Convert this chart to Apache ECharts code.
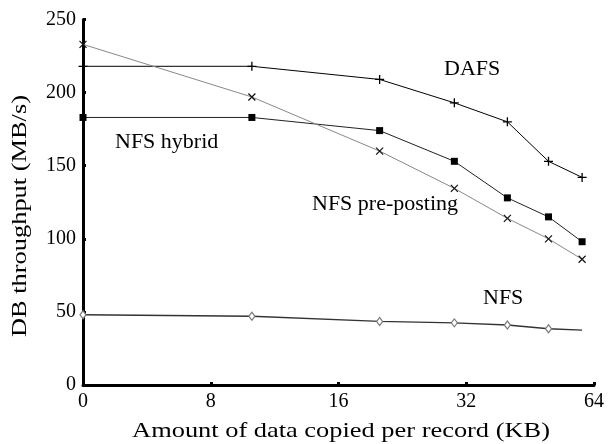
<!DOCTYPE html>
<html>
<head>
<meta charset="utf-8">
<script src="https://cdn.jsdelivr.net/npm/echarts@6/dist/echarts.min.js"></script>
<style>html,body{margin:0;padding:0;background:#fff;}#c{width:610px;height:444px;}</style>
</head>
<body>
<div id="c"></div>
<script>
// ---- data ----
const kbCopied = [0, 10, 20, 30, 40, 50, 60];
const dafs = [218, 218, 209, 193, 180, 153, 142];
const nfsHybrid = [183, 183, 174, 153, 128, 115, 98];
const nfsPrePosting = [233, 197, 160, 134.5, 114, 100, 86];
const nfs = [48, 47, 43.5, 42.5, 41, 38.5, 37.5];
const xTickValues = [4, 8, 16, 32, 64];
const xTickLabels = ['0', '8', '16', '32', '64'];
const yTicks = [0, 50, 100, 150, 200, 250];
const seriesNames = ['DAFS', 'NFS hybrid', 'NFS pre-posting', 'NFS'];
const xTitle = 'Amount of data copied per record (KB)';
const yTitle = 'DB throughput (MB/s)';

const FONT = '"Liberation Serif", "DejaVu Serif", serif';
const origin = xTickValues[0];
function pts(vals, hideLast) {
  return kbCopied.map((k, i) => {
    const item = { value: [k === 0 ? origin : k, vals[i]] };
    if (hideLast && i === vals.length - 1) item.symbol = 'none';
    return item;
  });
}
const chart = echarts.init(document.getElementById('c'), null, { renderer: 'canvas' });
chart.setOption({
  animation: false,
  backgroundColor: '#fff',
  grid: { left: 83, right: 16, top: 19.5, bottom: 59, containLabel: false },
  xAxis: {
    type: 'log', logBase: 2, min: xTickValues[0], max: xTickValues[xTickValues.length - 1],
    axisLine: { lineStyle: { color: '#000', width: 3 } },
    axisTick: { inside: true, length: 3, lineStyle: { color: '#000', width: 3 } },
    splitLine: { show: false },
    axisLabel: {
      color: '#000', fontFamily: FONT, fontSize: 20, margin: 7,
      formatter: v => { const i = xTickValues.indexOf(Math.round(v)); return i >= 0 ? xTickLabels[i] : ''; }
    }
  },
  yAxis: {
    type: 'value', min: yTicks[0], max: yTicks[yTicks.length - 1], interval: 50,
    axisLine: { show: true, lineStyle: { color: '#000', width: 3 } },
    axisTick: { show: true, inside: true, length: 3, lineStyle: { color: '#000', width: 3 } },
    splitLine: { show: false },
    axisLabel: { color: '#000', fontFamily: FONT, fontSize: 20, margin: 7 }
  },
  series: [
    {
      name: seriesNames[0], type: 'line', data: pts(dafs),
      lineStyle: { color: '#000', width: 1 },
      symbol: 'path://M5,0L5,10M0,5L10,5', symbolSize: 9,
      itemStyle: { color: 'transparent', borderColor: '#000', borderWidth: 1.3 }, z: 3
    },
    {
      name: seriesNames[1], type: 'line', data: pts(nfsHybrid),
      lineStyle: { color: '#222', width: 1 },
      symbol: 'rect', symbolSize: 7,
      itemStyle: { color: '#000', borderColor: '#000', borderWidth: 0 }, z: 3
    },
    {
      name: seriesNames[2], type: 'line', data: pts(nfsPrePosting),
      lineStyle: { color: '#888', width: 1 },
      symbol: 'path://M0,0L10,10M10,0L0,10', symbolSize: 7,
      itemStyle: { color: 'transparent', borderColor: '#111', borderWidth: 1.2 }, z: 3
    },
    {
      name: seriesNames[3], type: 'line', data: pts(nfs, true),
      lineStyle: { color: '#333', width: 1.4 },
      symbol: 'diamond', symbolSize: [6, 8],
      itemStyle: { color: '#fff', borderColor: '#777', borderWidth: 1.2 }, z: 3
    }
  ],
  graphic: [
    { type: 'text', left: 444, top: 58, style: { text: seriesNames[0], font: '22px ' + FONT, fill: '#000' } },
    { type: 'text', left: 115, top: 131, style: { text: seriesNames[1], font: '22px ' + FONT, fill: '#000' } },
    { type: 'text', left: 312, top: 193, style: { text: seriesNames[2], font: '22px ' + FONT, fill: '#000' } },
    { type: 'text', left: 483, top: 287, style: { text: seriesNames[3], font: '22px ' + FONT, fill: '#000' } },
    { type: 'text', x: 341, y: 431, scaleX: 1.2, style: { text: xTitle, font: '22px ' + FONT, fill: '#000', textAlign: 'center', textVerticalAlign: 'middle' } },
    { type: 'text', x: 20, y: 216, rotation: Math.PI / 2, scaleX: 1.2, style: { text: yTitle, font: '22px ' + FONT, fill: '#000', textAlign: 'center', textVerticalAlign: 'middle' } }
  ]
});
</script>
</body>
</html>
